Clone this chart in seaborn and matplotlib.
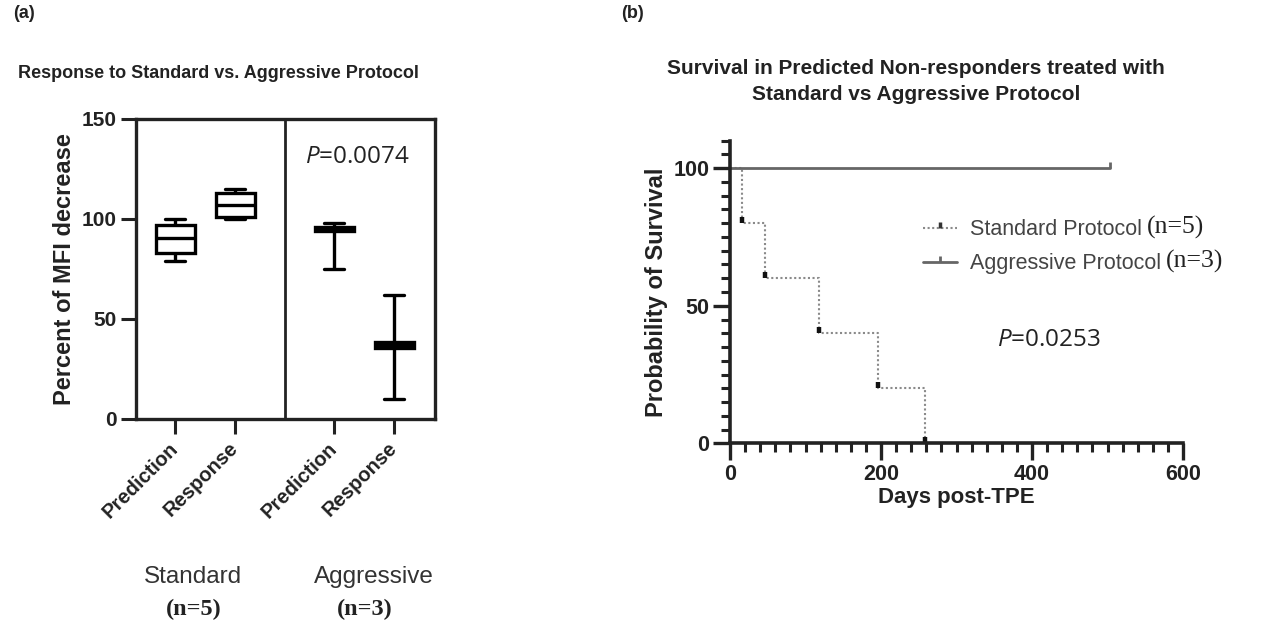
import numpy as np
import pandas as pd
import matplotlib
matplotlib.use("Agg")
import matplotlib.pyplot as plt
from matplotlib.path import Path
from matplotlib.lines import Line2D
import seaborn as sns

# ---------------- data ----------------
# panel (a): five-number summaries (min, Q1, median, Q3, max)
groups = ["Standard", "Standard", "Aggressive", "Aggressive"]
categories = ["Prediction", "Response", "Prediction", "Response"]
std_prediction = [79, 83, 90.5, 97, 100]
std_response = [100, 101, 107, 113, 115]
agg_prediction = [75, 94, 95, 96, 98]
agg_response = [10, 35.5, 37, 38.5, 62]
group_labels = ["Standard", "Aggressive"]
group_n = ["(n=5)", "(n=3)"]
p_value_a = "0.0074"

# panel (b): Kaplan-Meier steps
std_days = [0, 16, 46, 118, 196, 258]
std_survival = [100, 80, 60, 40, 20, 0]
agg_days = [0, 503]
agg_survival = [100, 100]
legend_labels = ["Standard Protocol", "Aggressive Protocol"]
p_value_b = "0.0253"

# ---------------- style ----------------
sns.set_theme(style="white")
plt.rcParams["font.family"] = ["Liberation Sans", "DejaVu Sans"]
plt.rcParams["mathtext.fontset"] = "custom"
plt.rcParams["mathtext.it"] = "Open Sans:italic"
plt.rcParams["mathtext.rm"] = "Open Sans"

W, H = 1264, 623
fig = plt.figure(figsize=(W / 100, H / 100), dpi=100)

def fx(px):
    return px / W

def fy(py):
    return 1 - py / H

dark = "#222222"

# ---------------- panel (a) ----------------
axA = fig.add_axes([fx(136), fy(419), fx(435) - fx(136), fy(119) - fy(419)])
positions = [0, 1, 2.65, 3.65]
series = [std_prediction, std_response, agg_prediction, agg_response]
rows = []
for pos, vals in zip(positions, series):
    for v in vals:
        rows.append({"pos": pos, "value": v})
dfA = pd.DataFrame(rows)

sns.boxplot(data=dfA, x="pos", y="value", native_scale=True, whis=(0, 100),
            width=0.65, color="white", linecolor="black", linewidth=2.4,
            showfliers=False, ax=axA)

axA.set_xlim(-0.65, 4.33)
axA.set_ylim(0, 150)
axA.set_yticks([0, 50, 100, 150])
axA.set_xticks(positions)
axA.set_xticklabels(categories, rotation=45, ha="right", va="center",
                    rotation_mode="anchor", fontsize=14.5, fontweight="bold",
                    color=dark)
axA.tick_params(axis="x", length=11, width=2.2, direction="out", pad=8,
                colors=dark, bottom=True)
axA.tick_params(axis="y", length=11, width=2.2, direction="out", pad=3,
                labelsize=15, colors=dark, left=True)
for lab in axA.get_yticklabels():
    lab.set_fontweight("bold")
for s in axA.spines.values():
    s.set_visible(True)
    s.set_linewidth(2.4)
    s.set_color(dark)
axA.axvline(1.83, color=dark, lw=2.0)
axA.set_xlabel("")
axA.set_ylabel("Percent of MFI decrease", fontsize=17, fontweight="bold",
               color=dark, labelpad=4)

axA.text((357 - 136) / 299, (419 - 157) / 300, "$P$=" + p_value_a,
         transform=axA.transAxes, fontsize=17.5, ha="center", va="center",
         color=dark, family="Open Sans")

for xc, lab in zip([193, 374], group_labels):
    fig.text(fx(xc), fy(577), lab, ha="center", va="center",
             fontsize=17.5, color="#333333")
for xc, lab in zip([194, 365], group_n):
    fig.text(fx(xc), fy(609), lab, ha="center", va="center", fontsize=17.5,
             fontweight="bold", family="Liberation Serif", color="#222222")

fig.text(fx(218), fy(73), "Response to Standard vs. Aggressive Protocol",
         ha="center", va="center", fontsize=13, fontweight="bold", color=dark)
fig.text(fx(24), fy(14), "(a)", ha="center", va="center", fontsize=13,
         fontweight="bold", color=dark)

# ---------------- panel (b) ----------------
axB = fig.add_axes([fx(730), fy(443.3), fx(1183) - fx(730), fy(140.7) - fy(443.3)])

tick_up = Path([(0, 0), (0, 1)], [Path.MOVETO, Path.LINETO])

std_color = "#8a8a8a"
agg_color = "#666666"
sns.lineplot(x=std_days, y=std_survival, drawstyle="steps-post", linestyle=(0, (1, 1.2)),
             color=std_color, linewidth=1.5, ax=axB, marker=tick_up,
             markevery=slice(1, None), markersize=9, markeredgewidth=3.2,
             markeredgecolor="#111111", markerfacecolor="none")
sns.lineplot(x=agg_days, y=agg_survival, drawstyle="steps-post", linestyle="-",
             color=agg_color, linewidth=2.0, ax=axB, marker=tick_up,
             markevery=slice(1, None), markersize=9, markeredgewidth=2.0,
             markeredgecolor=agg_color, markerfacecolor="none")

axB.set_xlim(0, 600)
axB.set_ylim(0, 110)
axB.set_xticks([0, 200, 400, 600])
axB.set_xticks(np.arange(0, 601, 20), minor=True)
axB.set_yticks([0, 50, 100])
axB.set_yticks(np.arange(0, 111, 5), minor=True)
axB.tick_params(axis="both", which="major", length=12, width=2.4,
                direction="out", labelsize=15.5, colors=dark,
                bottom=True, left=True, pad=3)
axB.tick_params(axis="both", which="minor", length=6.5, width=2.2,
                direction="out", colors=dark, bottom=True, left=True)
for lab in axB.get_xticklabels() + axB.get_yticklabels():
    lab.set_fontweight("bold")
for k in ["top", "right"]:
    axB.spines[k].set_visible(False)
for k in ["left", "bottom"]:
    axB.spines[k].set_linewidth(2.6)
    axB.spines[k].set_color(dark)
axB.set_xlabel("Days post-TPE", fontsize=16, fontweight="bold", color=dark,
               labelpad=1)
axB.set_ylabel("Probability of Survival", fontsize=17, fontweight="bold",
               color=dark, labelpad=4)

handles = [
    Line2D([0], [0], color=std_color, linestyle=(0, (1, 1.2)), linewidth=1.5,
           marker=tick_up, markersize=8, markeredgewidth=2.5,
           markeredgecolor="#333333", markerfacecolor="none"),
    Line2D([0], [0], color=agg_color, linestyle="-", linewidth=2.0,
           marker=tick_up, markersize=8, markeredgewidth=2.0,
           markeredgecolor=agg_color, markerfacecolor="none"),
]
leg = axB.legend(handles, legend_labels,
                 loc="center left", bbox_to_anchor=(0.425, 0.65),
                 frameon=False, fontsize=15.5, handlelength=1.6,
                 handletextpad=0.6, labelspacing=0.6, borderpad=0,
                 borderaxespad=0)
for t in leg.get_texts():
    t.set_color("#444444")

axB.text((1049 - 730) / (1183 - 730), (443.3 - 340) / (443.3 - 140.7),
         "$P$=" + p_value_b, transform=axB.transAxes, fontsize=17.5,
         ha="center", va="center", color=dark, family="Open Sans")

fig.text(fx(916), fy(68), "Survival in Predicted Non-responders treated with",
         ha="center", va="center", fontsize=15, fontweight="bold", color=dark)
fig.text(fx(916), fy(95), "Standard vs Aggressive Protocol",
         ha="center", va="center", fontsize=15, fontweight="bold", color=dark)
fig.text(fx(633), fy(14), "(b)", ha="center", va="center", fontsize=13,
         fontweight="bold", color=dark)

# serif "(n=...)" right after each legend label
fig.canvas.draw()
renderer = fig.canvas.get_renderer()
for t, n in zip(leg.get_texts(), group_n):
    bb = t.get_window_extent(renderer)
    fig.text((bb.x1 + 5) / W, (bb.y0 + bb.y1) / 2 / H + 2 / H, n,
             ha="left", va="center", fontsize=18.5, family="Liberation Serif",
             color="#222222")

fig.savefig("out.png", dpi=100)
